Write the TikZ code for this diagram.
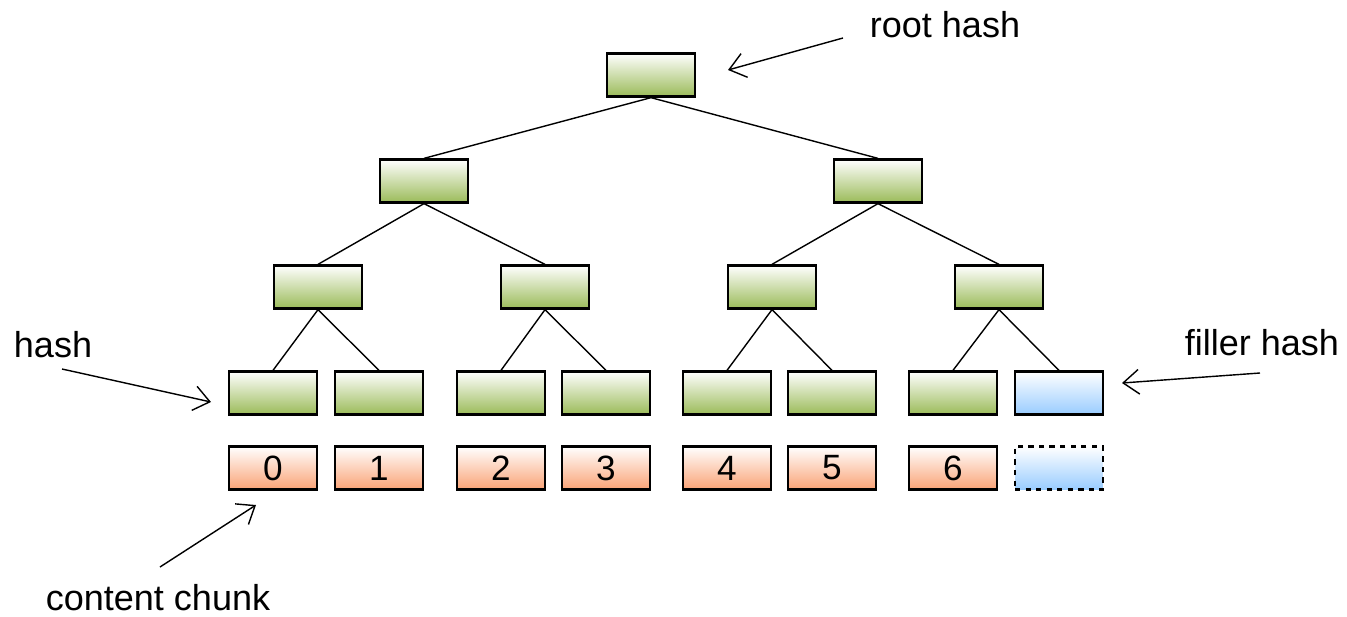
\documentclass[tikz,border=0pt]{standalone}
\usepackage{fontspec}
\setmainfont{Liberation Sans}
\usetikzlibrary{arrows.meta}
\definecolor{hashgreen}{RGB}{155,187,89}
\definecolor{chunkred}{RGB}{250,163,118}
\definecolor{fillblue}{RGB}{153,204,255}
\begin{document}
\begin{tikzpicture}[x=0.02cm,y=-0.02cm]
\useasboundingbox (0,0) rectangle (1347,616);
 \tikzstyle{box}=[draw=black,line width=1.3pt,minimum width=1.76cm,minimum height=0.86cm,inner sep=0pt,font=\fontsize{20}{24}\selectfont]
 \tikzstyle{hash}=[box,top color=white,bottom color=hashgreen]
 \tikzstyle{chunk}=[box,top color=white,bottom color=chunkred]
 \tikzstyle{filler}=[box,top color=white,bottom color=fillblue]
 \tikzstyle{edge}=[line width=0.8pt]
 \tikzstyle{pointer}=[line width=0.8pt,-{Straight Barb[length=9pt,width=14pt,line width=0.8pt]}]
 \tikzstyle{caption}=[font=\fontsize{20.5}{24}\selectfont,inner sep=0pt]
    % tree of hashes
    \node (root)[hash] at (651,75) {};
    \node (ha)[hash] at (424,181) {};
    \node (hb)[hash] at (878,181) {};
    \node (haa)[hash] at (318,287) {};
    \node (hab)[hash] at (545,287) {};
    \node (hba)[hash] at (772,287) {};
    \node (hbb)[hash] at (999,287) {};
    \node (h0)[hash] at (273,393) {};
    \node (h1)[hash] at (379,393) {};
    \node (h2)[hash] at (501,393) {};
    \node (h3)[hash] at (606,393) {};
    \node (h4)[hash] at (727,393) {};
    \node (h5)[hash] at (832,393) {};
    \node (h6)[hash] at (953,393) {};
    \node (h7)[filler] at (1059,393) {};
    % content chunks
    \node (c0)[chunk] at (273,468) {0};
    \node (c1)[chunk] at (379,468) {1};
    \node (c2)[chunk] at (501,468) {2};
    \node (c3)[chunk] at (606,468) {3};
    \node (c4)[chunk] at (727,468) {4};
    \node (c5)[chunk] at (832,468) {5};
    \node (c6)[chunk] at (953,468) {6};
    \node (c7)[filler,dashed] at (1059,468) {};
    \draw[edge] (root.south) -- (ha.north) (root.south) -- (hb.north);
    \draw[edge] (ha.south) -- (haa.north) (ha.south) -- (hab.north);
    \draw[edge] (hb.south) -- (hba.north) (hb.south) -- (hbb.north);
    \draw[edge] (haa.south) -- (h0.north) (haa.south) -- (h1.north);
    \draw[edge] (hab.south) -- (h2.north) (hab.south) -- (h3.north);
    \draw[edge] (hba.south) -- (h4.north) (hba.south) -- (h5.north);
    \draw[edge] (hbb.south) -- (h6.north) (hbb.south) -- (h7.north);
    % labels
    \node (lroot)[caption] at (945,25) {root hash};
    \node (lhash)[caption] at (53,345) {hash};
    \node (lfill)[caption] at (1262,343) {filler hash};
    \node (lchunk)[caption] at (158,598) {content chunk};
    \coordinate (rt) at (843,38);  \coordinate (rh) at (728,70);
    \coordinate (ht) at (62,369);  \coordinate (hh) at (211,402);
    \coordinate (ft) at (1260,373); \coordinate (fh) at (1122,383);
    \coordinate (ct) at (160,567); \coordinate (ch) at (256,505);
    \draw[pointer] (rt) -- (rh);
    \draw[pointer] (ht) -- (hh);
    \draw[pointer] (ft) -- (fh);
    \draw[pointer] (ct) -- (ch);
\end{tikzpicture}
\end{document}
